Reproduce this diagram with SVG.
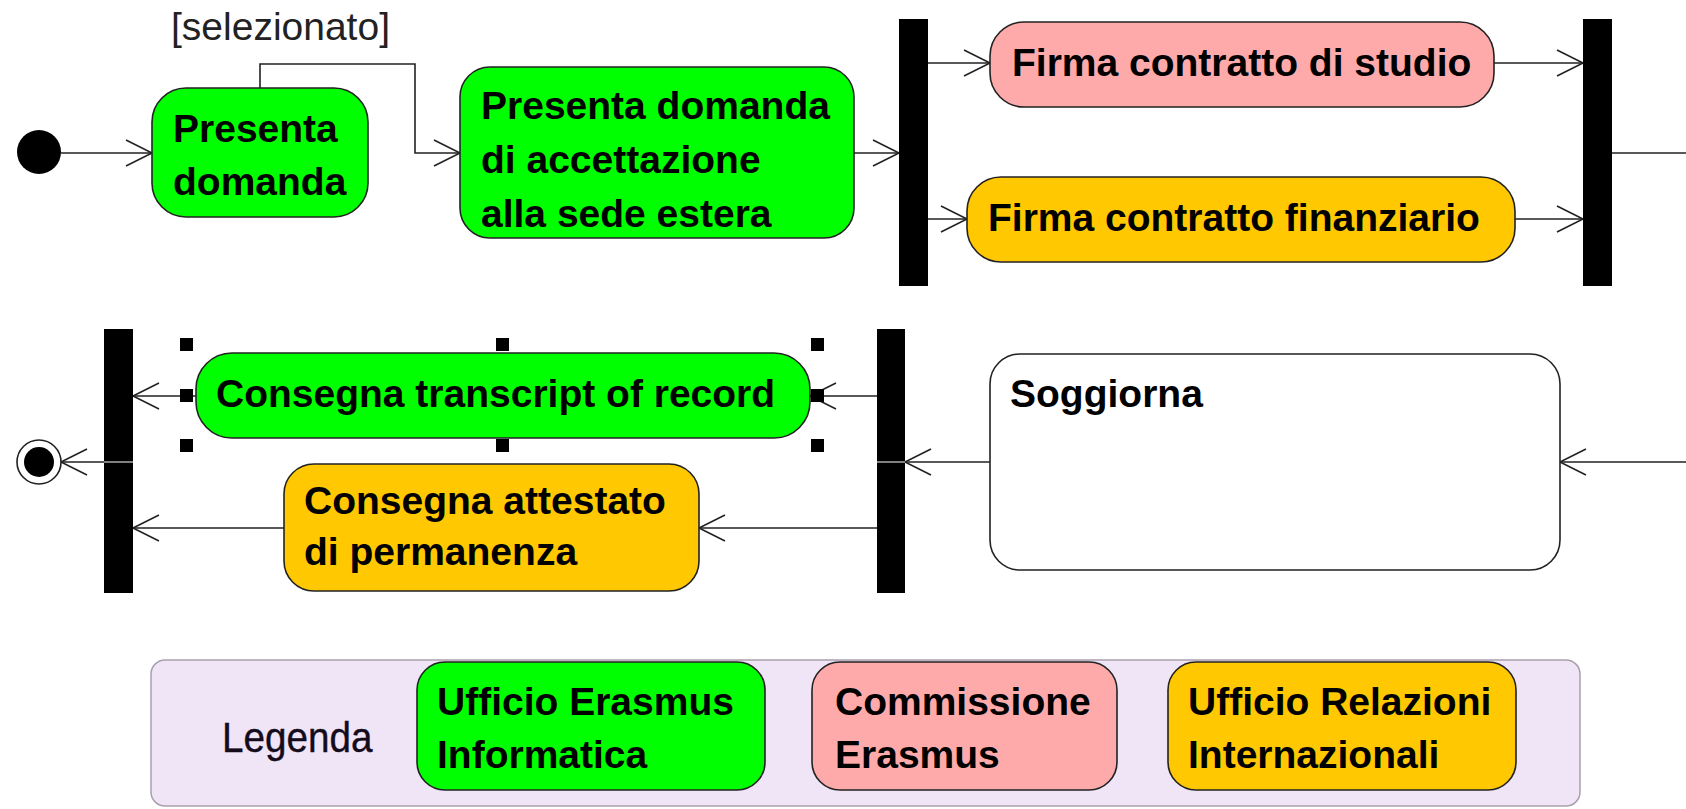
<svg xmlns="http://www.w3.org/2000/svg" width="1686" height="809" viewBox="0 0 1686 809">
<style>
.bg{fill:#ffffff}
.act{stroke:#222;stroke-width:1.6}
.green{fill:#00ff00}
.pink{fill:#ffaaaa}
.orange{fill:#ffc800}
.white{fill:#ffffff}
.lbl{font-family:"Liberation Sans",Arial,sans-serif;font-weight:bold;font-size:39px;fill:#000}
.reg{font-family:"Liberation Sans",Arial,sans-serif;font-size:39px;fill:#222}
.bar{fill:#000}
.edge{fill:none;stroke:#222;stroke-width:1.6}
.handle{fill:#000}
</style>
<defs>
<marker id="arr" viewBox="-2 -16 30 32" markerWidth="30" markerHeight="32" refX="26" refY="0" orient="auto" markerUnits="userSpaceOnUse">
<path d="M0,-13 L26,0 L0,13" fill="none" stroke="#222" stroke-width="1.6"/>
</marker>
</defs>
<rect class="bg" x="0" y="0" width="1686" height="809"/>

<g id="connectors">
<path class="edge" d="M61,153 H152" marker-end="url(#arr)"/>
<path class="edge" d="M260,88 V64 H415 V153 H460" marker-end="url(#arr)"/>
<path class="edge" d="M854,153 H899" marker-end="url(#arr)"/>
<path class="edge" d="M928,63 H990" marker-end="url(#arr)"/>
<path class="edge" d="M928,219 H967" marker-end="url(#arr)"/>
<path class="edge" d="M1494,63 H1583" marker-end="url(#arr)"/>
<path class="edge" d="M1515,219 H1583" marker-end="url(#arr)"/>
<path class="edge" d="M1612,153 H1686"/>
<path class="edge" d="M1686,462 H1560" marker-end="url(#arr)"/>
<path class="edge" d="M990,462 H905" marker-end="url(#arr)"/>
<path class="edge" d="M877,396 H810" marker-end="url(#arr)"/>
<path class="edge" d="M877,528 H699" marker-end="url(#arr)"/>
<path class="edge" d="M196,396 H133" marker-end="url(#arr)"/>
<path class="edge" d="M284,528 H133" marker-end="url(#arr)"/>
<path class="edge" d="M104,462 H61" marker-end="url(#arr)"/>
<text class="reg" x="171" y="40">[selezionato]</text>
</g>

<g id="start">
<circle cx="39" cy="152" r="22" fill="#000"/>
</g>

<g id="presenta-domanda">
<rect class="act green" x="152" y="88" width="216" height="129" rx="34"/>
<text class="lbl" x="173" y="142">Presenta</text>
<text class="lbl" x="173" y="195">domanda</text>
</g>

<g id="presenta-accettazione">
<rect class="act green" x="460" y="67" width="394" height="171" rx="30"/>
<text class="lbl" x="481" y="119">Presenta domanda</text>
<text class="lbl" x="481" y="173">di accettazione</text>
<text class="lbl" x="481" y="227">alla sede estera</text>
</g>

<g id="fork1"><rect class="bar" x="899" y="19" width="29" height="267"/></g>

<g id="firma-studio">
<rect class="act pink" x="990" y="22" width="504" height="85" rx="34"/>
<text class="lbl" x="1012" y="76">Firma contratto di studio</text>
</g>

<g id="firma-finanziario">
<rect class="act orange" x="967" y="177" width="548" height="85" rx="34"/>
<text class="lbl" x="988" y="231">Firma contratto finanziario</text>
</g>

<g id="join1"><rect class="bar" x="1583" y="19" width="29" height="267"/></g>

<g id="soggiorna">
<rect class="act white" x="990" y="354" width="570" height="216" rx="30"/>
<text class="lbl" x="1010" y="407">Soggiorna</text>
</g>

<g id="fork2">
<rect class="bar" x="877" y="329" width="28" height="264"/>
<line x1="877" y1="462" x2="905" y2="462" stroke="#fff" stroke-width="1"/>
</g>

<g id="consegna-transcript">
<rect class="act green" x="196" y="353" width="614" height="85" rx="36"/>
<text class="lbl" x="216" y="407">Consegna transcript of record</text>
<rect class="handle" x="180" y="338" width="13" height="13"/>
<rect class="handle" x="496" y="338" width="13" height="13"/>
<rect class="handle" x="811" y="338" width="13" height="13"/>
<rect class="handle" x="180" y="389" width="13" height="13"/>
<rect class="handle" x="811" y="389" width="13" height="13"/>
<rect class="handle" x="180" y="439" width="13" height="13"/>
<rect class="handle" x="496" y="439" width="13" height="13"/>
<rect class="handle" x="811" y="439" width="13" height="13"/>
</g>

<g id="consegna-attestato">
<rect class="act orange" x="284" y="464" width="415" height="127" rx="30"/>
<text class="lbl" x="304" y="514">Consegna attestato</text>
<text class="lbl" x="304" y="565">di permanenza</text>
</g>

<g id="join2">
<rect class="bar" x="104" y="329" width="29" height="264"/>
<line x1="104" y1="462" x2="133" y2="462" stroke="#fff" stroke-width="1"/>
</g>

<g id="end">
<circle cx="39" cy="462" r="22" fill="#fff" stroke="#222" stroke-width="1.6"/>
<circle cx="39" cy="462" r="15" fill="#000"/>
</g>

<g id="legenda">
<rect x="151" y="660" width="1429" height="146" rx="14" fill="#f0e4f7" stroke="#a9a0ad" stroke-width="1.5"/>
<text transform="translate(222,752) scale(0.92,1)" font-family="'Liberation Sans',Arial,sans-serif" font-size="42" fill="#140c1c" stroke="#140c1c" stroke-width="0.4">Legenda</text>
<rect class="act green" x="417" y="662" width="348" height="128" rx="28"/>
<text class="lbl" x="437" y="715">Ufficio Erasmus</text>
<text class="lbl" x="437" y="768">Informatica</text>
<rect class="act pink" x="812" y="662" width="305" height="128" rx="28"/>
<text class="lbl" x="835" y="715">Commissione</text>
<text class="lbl" x="835" y="768">Erasmus</text>
<rect class="act orange" x="1168" y="662" width="348" height="128" rx="28"/>
<text class="lbl" x="1188" y="715">Ufficio Relazioni</text>
<text class="lbl" x="1188" y="768">Internazionali</text>
</g>
</svg>
